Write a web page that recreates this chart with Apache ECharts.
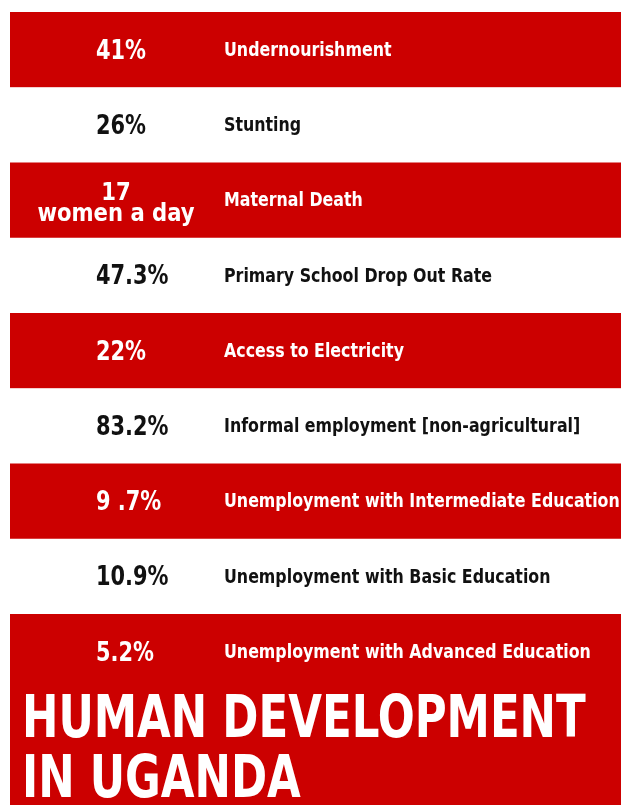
<!DOCTYPE html>
<html>
<head>
<meta charset="utf-8">
<script src="https://cdn.jsdelivr.net/npm/echarts@6/dist/echarts.min.js"></script>
<style>
html,body{margin:0;padding:0;background:#fff;}
#chart{width:621px;height:805px;}
</style>
</head>
<body>
<div id="chart"></div>
<script>
// Data
const indicators = [
  'Undernourishment',
  'Stunting',
  'Maternal Death',
  'Primary School Drop Out Rate',
  'Access to Electricity',
  'Informal employment [non-agricultural]',
  'Unemployment with Intermediate Education',
  'Unemployment with Basic Education',
  'Unemployment with Advanced Education'
];
const figures = ['41%', '26%', '17\nwomen a day', '47.3%', '22%', '83.2%', '9 .7%', '10.9%', '5.2%'];
const titleLines = ['HUMAN DEVELOPMENT', 'IN UGANDA'];

const RED = '#cc0000';
const FONT = '"DejaVu Sans Condensed", "DejaVu Sans", sans-serif';

const chart = echarts.init(document.getElementById('chart'));

function renderRow(params, api) {
  const idx = api.value(1);
  const c = api.coord([0, idx]);
  const h = api.size([1, 1])[1];
  const cs = params.coordSys;
  const onRed = idx % 2 === 0;
  const txt = onRed ? '#ffffff' : '#111111';
  const fig = figures[params.dataIndex];
  const multi = fig.indexOf('\n') >= 0;
  const cy = c[1];
  return {
    type: 'group',
    children: [
      {
        type: 'rect',
        shape: { x: cs.x, y: cy - h / 2, width: cs.width, height: h + (onRed ? 0.5 : 0) },
        style: { fill: onRed ? RED : '#ffffff' }
      },
      {
        type: 'text',
        x: multi ? cs.x + 106 : cs.x + 86,
        y: multi ? cy + 4 : cy + 2,
        scaleX: multi ? 0.98 : 0.86,
        style: {
          text: fig, fill: txt,
          font: multi ? 'bold 24px ' + FONT : 'bold 27px ' + FONT,
          lineHeight: 21,
          align: multi ? 'center' : 'left',
          verticalAlign: 'middle'
        }
      },
      {
        type: 'text',
        x: cs.x + 214,
        y: cy + 1,
        scaleX: 0.88,
        style: {
          text: indicators[params.dataIndex], fill: txt,
          font: 'bold 20px ' + FONT,
          align: 'left', verticalAlign: 'middle'
        }
      }
    ]
  };
}

chart.setOption({
  animation: false,
  backgroundColor: '#ffffff',
  grid: { left: 10, right: 0, top: 12, height: 677.25, containLabel: false },
  xAxis: { type: 'value', min: 0, max: 1, show: false },
  yAxis: { type: 'category', data: indicators, inverse: true, show: false },
  graphic: [
    { type: 'rect', x: 10, y: 688, shape: { width: 611, height: 117 }, style: { fill: RED }, z: 0 },
    {
      type: 'text', x: 22, y: 722, scaleX: 0.82, z: 10,
      style: { text: titleLines[0], fill: '#ffffff', font: 'bold 59px "DejaVu Sans Condensed", sans-serif', verticalAlign: 'middle' }
    },
    {
      type: 'text', x: 22, y: 782, scaleX: 0.82, z: 10,
      style: { text: titleLines[1], fill: '#ffffff', font: 'bold 59px "DejaVu Sans Condensed", sans-serif', verticalAlign: 'middle' }
    }
  ],
  series: [
    {
      type: 'custom', silent: true,
      renderItem: renderRow,
      encode: { x: 0, y: 1 },
      data: indicators.map((n, i) => [1, i])
    }
  ]
});
</script>
</body>
</html>
